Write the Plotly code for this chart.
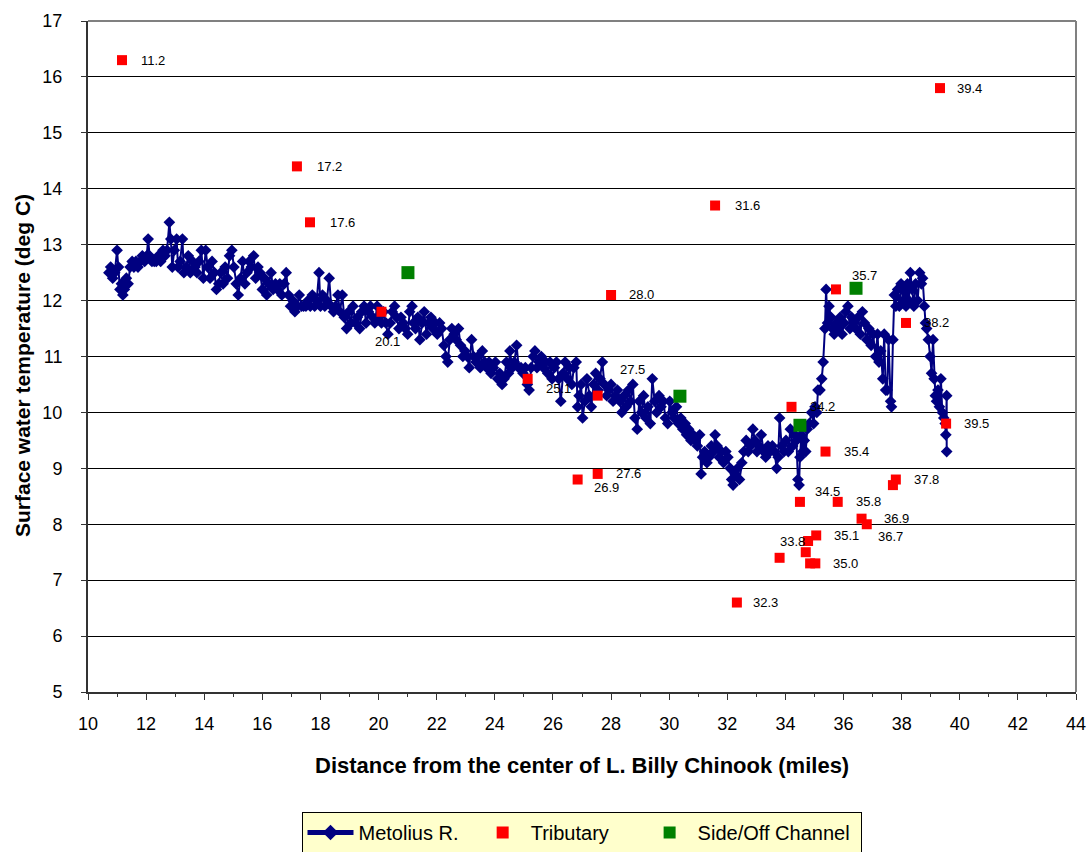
import plotly.graph_objects as go

# ---------------- data ----------------
# Metolius R. main-stem survey (distance in miles, temperature deg C)
metolius_points = [
    (10.72,12.5),(10.78,12.6),(10.85,12.4),(10.92,12.5),(11.0,12.9),(11.05,12.6),(11.1,12.2),(11.15,12.3),
    (11.2,12.1),(11.25,12.2),(11.32,12.4),(11.38,12.3),(11.45,12.6),(11.52,12.7),(11.58,12.6),(11.65,12.7),
    (11.72,12.6),(11.8,12.7),(11.87,12.8),(11.95,12.7),(12.02,12.8),(12.07,13.1),(12.12,12.8),(12.2,12.7),
    (12.28,12.7),(12.35,12.7),(12.42,12.8),(12.5,12.7),(12.58,12.9),(12.65,12.8),(12.72,12.9),(12.8,13.4),
    (12.85,13.1),(12.9,12.6),(12.97,12.9),(13.05,13.1),(13.1,12.6),(13.17,12.7),(13.25,13.1),(13.3,12.5),
    (13.38,12.6),(13.45,12.8),(13.52,12.5),(13.6,12.7),(13.68,12.6),(13.75,12.5),(13.82,12.7),(13.9,12.9),
    (13.97,12.4),(14.05,12.9),(14.12,12.6),(14.2,12.4),(14.27,12.7),(14.35,12.5),(14.42,12.2),(14.5,12.3),
    (14.57,12.5),(14.65,12.3),(14.72,12.6),(14.8,12.4),(14.87,12.8),(14.95,12.9),(15.02,12.6),(15.1,12.3),
    (15.17,12.1),(15.25,12.4),(15.32,12.7),(15.4,12.3),(15.47,12.5),(15.55,12.7),(15.62,12.6),(15.7,12.8),
    (15.77,12.4),(15.85,12.6),(15.92,12.5),(16.0,12.2),(16.07,12.4),(16.15,12.1),(16.22,12.3),(16.3,12.5),
    (16.37,12.2),(16.45,12.3),(16.52,12.2),(16.6,12.3),(16.67,12.1),(16.75,12.3),(16.82,12.5),(16.9,12.1),
    (16.97,11.9),(17.05,12.0),(17.12,11.8),(17.2,11.9),(17.27,12.1),(17.35,11.9),(17.42,11.9),(17.5,11.9),
    (17.57,12.0),(17.65,11.9),(17.72,12.1),(17.8,11.9),(17.87,12.0),(17.95,12.5),(18.0,11.9),(18.07,12.1),
    (18.15,11.9),(18.22,12.0),(18.3,12.4),(18.37,11.9),(18.45,11.8),(18.52,11.9),(18.6,12.1),(18.67,11.8),
    (18.75,12.1),(18.82,11.7),(18.9,11.5),(18.97,11.8),(19.05,11.6),(19.12,11.9),(19.2,11.6),(19.27,11.7),
    (19.35,11.5),(19.42,11.8),(19.5,11.9),(19.57,11.6),(19.65,11.8),(19.72,11.9),(19.8,11.7),(19.87,11.6),
    (19.95,11.9),(20.02,11.7),(20.1,11.6),(20.17,11.8),(20.25,11.6),(20.32,11.4),(20.4,11.6),(20.47,11.8),
    (20.55,11.9),(20.62,11.7),(20.7,11.5),(20.77,11.7),(20.85,11.6),(20.92,11.5),(21.0,11.4),(21.07,11.8),
    (21.15,11.9),(21.2,11.6),(21.27,11.5),(21.35,11.7),(21.42,11.3),(21.5,11.6),(21.57,11.8),(21.65,11.4),
    (21.72,11.6),(21.8,11.7),(21.87,11.5),(21.95,11.6),(22.02,11.4),(22.1,11.6),(22.17,11.5),(22.25,11.2),
    (22.32,11.0),(22.38,10.9),(22.45,11.3),(22.52,11.5),(22.6,11.4),(22.67,11.3),(22.75,11.5),(22.82,11.2),
    (22.9,11.0),(22.97,11.1),(23.05,11.0),(23.12,10.8),(23.2,11.3),(23.27,11.0),(23.35,10.9),(23.42,11.0),
    (23.5,10.8),(23.57,11.1),(23.65,10.9),(23.72,10.8),(23.8,10.9),(23.87,10.7),(23.95,10.8),(24.02,10.9),
    (24.1,10.6),(24.17,10.7),(24.25,10.5),(24.32,10.6),(24.4,10.9),(24.47,10.7),(24.52,11.1),(24.6,10.8),
    (24.67,10.9),(24.75,11.2),(24.82,10.8),(24.9,10.8),(24.97,10.7),(25.05,10.8),(25.12,10.5),(25.18,10.4),
    (25.25,10.8),(25.32,11.0),(25.38,11.1),(25.45,10.8),(25.52,10.9),(25.6,11.0),(25.67,10.8),(25.75,10.9),
    (25.82,10.7),(25.9,10.9),(25.97,10.6),(26.05,10.8),(26.12,10.9),(26.2,10.6),(26.27,10.2),(26.35,10.7),
    (26.42,10.9),(26.5,10.6),(26.57,10.8),(26.65,10.5),(26.72,10.8),(26.8,10.9),(26.85,10.1),(26.9,10.3),
    (26.97,10.5),(27.02,9.9),(27.1,10.2),(27.17,10.6),(27.25,10.3),(27.32,10.1),(27.4,10.5),(27.47,10.7),
    (27.55,10.4),(27.62,10.6),(27.7,10.9),(27.77,10.5),(27.85,10.3),(27.92,10.4),(28.0,10.5),(28.07,10.2),
    (28.15,10.3),(28.22,10.4),(28.3,10.2),(28.37,10.0),(28.45,10.3),(28.52,10.1),(28.6,10.4),(28.67,10.2),
    (28.75,10.5),(28.82,9.9),(28.9,9.7),(28.97,10.2),(29.05,10.0),(29.12,10.3),(29.2,9.9),(29.27,10.1),
    (29.35,9.8),(29.42,10.6),(29.5,10.2),(29.57,10.0),(29.65,10.3),(29.72,10.1),(29.8,10.2),(29.87,9.9),
    (29.95,9.8),(30.02,10.2),(30.1,10.0),(30.17,9.9),(30.25,10.1),(30.32,9.8),(30.4,9.9),(30.47,9.7),
    (30.55,9.8),(30.6,9.6),(30.67,9.7),(30.75,9.5),(30.82,9.6),(30.9,9.5),(30.97,9.4),(31.05,9.6),
    (31.1,8.9),(31.15,9.2),(31.22,9.3),(31.3,9.1),(31.37,9.2),(31.45,9.4),(31.52,9.3),(31.58,9.6),
    (31.65,9.4),(31.72,9.2),(31.8,9.3),(31.87,9.1),(31.95,9.3),(32.02,9.2),(32.1,9.0),(32.15,8.8),
    (32.2,8.7),(32.27,8.9),(32.35,9.0),(32.42,8.8),(32.5,9.1),(32.57,9.3),(32.65,9.5),(32.72,9.3),
    (32.8,9.4),(32.88,9.7),(32.95,9.5),(33.02,9.3),(33.1,9.4),(33.17,9.6),(33.25,9.3),(33.32,9.2),
    (33.4,9.4),(33.47,9.3),(33.55,9.4),(33.62,9.3),(33.7,9.0),(33.75,9.2),(33.8,9.9),(33.87,9.4),
    (33.95,9.3),(34.02,9.5),(34.1,9.3),(34.17,9.7),(34.25,9.4),(34.32,9.6),(34.38,9.5),(34.43,8.8),
    (34.47,8.7),(34.5,9.2),(34.55,9.6),(34.6,9.3),(34.65,9.5),(34.7,9.3),(34.75,9.7),(34.82,9.8),
    (34.9,10.0),(34.97,9.8),(35.02,10.1),(35.08,10.0),(35.12,10.4),(35.19,10.4),(35.25,10.6),(35.3,10.9),
    (35.36,11.5),(35.4,12.2),(35.45,11.6),(35.5,11.9),(35.57,11.7),(35.62,11.5),(35.68,11.4),(35.75,11.6),
    (35.82,11.5),(35.88,11.7),(35.95,11.4),(36.02,11.6),(36.08,11.8),(36.15,11.9),(36.22,11.5),(36.28,11.7),
    (36.35,11.6),(36.42,11.5),(36.5,11.7),(36.58,11.4),(36.65,11.8),(36.72,11.6),(36.8,11.3),(36.87,11.5),
    (36.95,11.2),(37.02,11.4),(37.1,11.0),(37.17,11.4),(37.22,10.9),(37.28,11.1),(37.35,10.6),(37.4,11.4),
    (37.45,10.4),(37.5,10.4),(37.55,11.3),(37.62,10.2),(37.65,10.1),(37.7,11.3),(37.75,12.1),(37.8,11.9),
    (37.86,12.2),(37.92,11.9),(37.98,12.3),(38.05,12.0),(38.1,12.2),(38.15,11.9),(38.2,12.3),(38.25,12.0),
    (38.3,12.5),(38.36,12.2),(38.42,11.9),(38.48,12.3),(38.55,12.0),(38.62,12.5),(38.68,12.3),(38.72,12.4),
    (38.78,11.9),(38.82,11.6),(38.86,11.5),(38.92,11.3),(38.98,11.0),(39.03,10.7),(39.08,11.3),(39.12,10.6),
    (39.16,10.3),(39.2,10.2),(39.25,10.4),(39.3,10.1),(39.35,10.6),(39.4,10.0),(39.45,9.9),(39.5,9.8),
    (39.52,9.6),(39.55,10.3),(39.55,9.3),
]
metolius_x = [p[0] for p in metolius_points]
metolius_y = [p[1] for p in metolius_points]

# Tributary inflows
tributary_x = [11.17, 17.19, 17.64, 20.10, 25.13, 27.54, 27.54, 26.85, 28.00, 31.58,
               32.33, 33.80, 34.21, 34.50, 34.70, 34.78, 35.06, 34.85, 35.03, 35.38,
               35.74, 35.80, 36.62, 36.80, 37.70, 37.80, 38.15, 39.32, 39.53]
tributary_y = [16.3, 14.4, 13.4, 11.8, 10.6, 10.3, 8.9, 8.8, 12.1, 13.7,
               6.6, 7.4, 10.1, 8.4, 7.5, 7.7, 7.8, 7.3, 7.3, 9.3,
               12.2, 8.4, 8.1, 8.0, 8.7, 8.8, 11.6, 15.8, 9.8]
tributary_labels = ["11.2", "17.2", "17.6", "20.1", "25.1", "27.5", "27.6", "26.9", "28.0", "31.6",
                    "32.3", "33.8", "34.2", "34.5", "", "", "35.1", "", "35.0", "35.4",
                    "35.7", "35.8", "36.9", "36.7", "", "37.8", "38.2", "39.4", "39.5"]

# Side / off channel
side_x = [21.01, 30.37, 34.50, 36.43]
side_y = [12.50, 10.29, 9.77, 12.22]

x_ticks = list(range(10, 45, 2))
y_ticks = list(range(5, 18, 1))

# label offsets in pixels (left edge dx, downward dy) -- styling only
label_offsets = [(17, 0), (18, 0), (18, 0), (-8, 30), (16, 10), (20, -26), (16, 0), (14, 8), (16, 0), (18, 0),
                 (14, 0), (-2, -16), (16, 0), (13, -10), (0, 0), (0, 0), (16, 0), (0, 0), (16, 0), (16, 0),
                 (14, -14), (16, 0), (20, 0), (9, 12), (0, 0), (16, 0), (16, 0), (15, 0), (16, 0)]

FONT = "Liberation Sans, Arial, sans-serif"
NAVY = "#000080"
NBSP = "\u00a0"

fig = go.Figure()
fig.add_trace(go.Scatter(
    x=metolius_x, y=metolius_y, mode="lines+markers", name="Metolius R." + NBSP * 2,
    line=dict(color=NAVY, width=2),
    marker=dict(symbol="diamond", size=9, color=NAVY, line=dict(width=0)),
))
fig.add_trace(go.Scatter(
    x=tributary_x, y=tributary_y, mode="markers", name="Tributary" + NBSP * 5,
    marker=dict(symbol="square", size=10, color="#FF0000", line=dict(width=0)),
))
fig.add_trace(go.Scatter(
    x=side_x, y=side_y, mode="markers", name="Side/Off Channel" + NBSP,
    marker=dict(symbol="square", size=13, color="#008000", line=dict(width=0)),
))

annotations = []
for xv, yv, txt, (dx, dy) in zip(tributary_x, tributary_y, tributary_labels, label_offsets):
    if not txt:
        continue
    annotations.append(dict(
        x=xv, y=yv, xref="x", yref="y", text=txt, showarrow=False,
        xanchor="left", yanchor="middle", xshift=dx, yshift=-dy,
        font=dict(family=FONT, size=13, color="#000000"),
    ))

annotations.append(dict(
    x=0.5, y=-0.109, xref="paper", yref="paper", xanchor="center", yanchor="middle",
    text="<b>Distance from the center of L. Billy Chinook (miles)</b>", showarrow=False,
    font=dict(family=FONT, size=22, color="#000000"),
))
annotations.append(dict(
    x=-0.0668, y=0.4858, xref="paper", yref="paper", xanchor="center", yanchor="middle",
    text="<b>Surface water temperature (deg C)</b>", showarrow=False, textangle=-90,
    font=dict(family=FONT, size=21, color="#000000"),
))

fig.update_layout(
    width=1091, height=852,
    margin=dict(l=88, r=15, t=21, b=160, autoexpand=False),
    paper_bgcolor="#FFFFFF", plot_bgcolor="#FFFFFF",
    font=dict(family=FONT, size=18, color="#000000"),
    showlegend=True,
    legend=dict(
        orientation="h", x=0.4995, xanchor="center", y=-0.1788, yanchor="top",
        bgcolor="#FFFFCC", bordercolor="#000000", borderwidth=1,
        font=dict(family=FONT, size=20, color="#000000"),
        itemwidth=46,
        itemsizing="constant",
    ),
    annotations=annotations,
    shapes=[
        dict(type="line", xref="paper", yref="paper", x0=0, x1=1, y0=1, y1=1,
             line=dict(color="#808080", width=2)),
        dict(type="line", xref="paper", yref="paper", x0=1, x1=1, y0=0, y1=1,
             line=dict(color="#808080", width=2)),
    ],
)

fig.update_xaxes(
    range=[10, 44], tickvals=x_ticks, ticktext=[str(v) for v in x_ticks],
    showgrid=False, zeroline=False,
    showline=True, linecolor="#333333", linewidth=2,
    ticks="outside", ticklen=6, tickcolor="#333333", tickwidth=1,
    ticklabelstandoff=8,
    minor=dict(dtick=1, tick0=10, ticks="outside", ticklen=3, tickcolor="#333333", showgrid=False),
    tickfont=dict(family=FONT, size=18, color="#000000"),
)
fig.update_yaxes(
    range=[5, 17], tickvals=y_ticks, ticktext=[str(v) for v in y_ticks],
    showgrid=True, gridcolor="#000000", gridwidth=1, zeroline=False,
    showline=True, linecolor="#333333", linewidth=2,
    ticks="outside", ticklen=5, tickcolor="#333333", tickwidth=1,
    ticklabelstandoff=15,
    tickfont=dict(family=FONT, size=18, color="#000000"),
)

fig.write_html("out.html")
